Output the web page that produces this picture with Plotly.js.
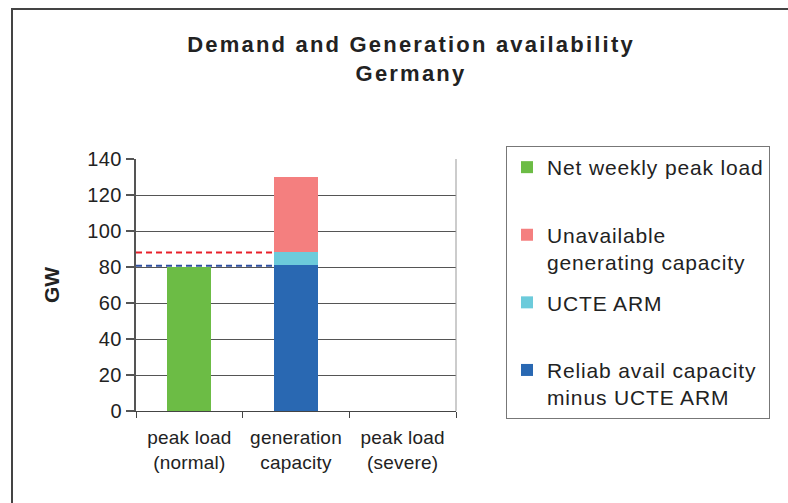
<!DOCTYPE html>
<html>
<head>
<meta charset="utf-8">
<script src="https://cdn.plot.ly/plotly-3.0.1.min.js"></script>
<style>
  html, body { margin: 0; padding: 0; background: #fff; }
  #chart { width: 788px; height: 503px; }
  .gtitle { letter-spacing: 2.2px; }
  .legendtext { letter-spacing: 0.85px; }
  .xtick text { letter-spacing: 0.2px; }
  .ytick text { letter-spacing: 0.5px; }
</style>
</head>
<body>
<div id="chart"></div>
<script>
// ---- data ----
var categories = ["peak load<br>(normal)", "generation<br>capacity", "peak load<br>(severe)"];
var netWeeklyPeakLoad = [80, null, null];
var reliabMinusARM = [null, 81, null];
var ucteARM = [null, 7.5, null];
var unavailableCapacity = [null, 41.5, null];
var seriesNames = [
  "Net weekly peak load<br> ",
  "Unavailable<br>generating capacity",
  "UCTE ARM<br> ",
  "Reliab avail capacity<br>minus UCTE ARM"
];
var redLineValue = 88;
var blueLineValue = 80.7;
var yTicks = [0, 20, 40, 60, 80, 100, 120, 140];

// ---- layout constants ----
var W = 788, H = 503;
var M = {l: 136, r: 332, t: 159, b: 92};
var plotW = W - M.l - M.r, plotH = H - M.t - M.b;
function px2x(px) { return (px - M.l) / plotW; }
function px2y(py) { return (H - M.b - py) / plotH; }

var font = "Liberation Sans, Arial, sans-serif";

var traces = [
  {type: "bar", x: categories, y: reliabMinusARM, name: seriesNames[3], legendgroup: "d", legendrank: 4,
   marker: {color: "#2968b2"}},
  {type: "bar", x: categories, y: ucteARM, name: seriesNames[2], legendgroup: "c", legendrank: 3,
   marker: {color: "#6ccbdb"}},
  {type: "bar", x: categories, y: unavailableCapacity, name: seriesNames[1], legendgroup: "b", legendrank: 2,
   marker: {color: "#f47f7f"}},
  {type: "bar", x: categories, y: netWeeklyPeakLoad, name: seriesNames[0], legendgroup: "a", legendrank: 1,
   marker: {color: "#6cbc45"}}
];
traces.forEach(function (t) { t.hoverinfo = "skip"; t.marker.line = {width: 0}; });

var bx = px2x(12), by = px2y(9), bxr = px2x(W + 5), byb = px2y(H + 5);

var layout = {
  width: W, height: H,
  margin: M,
  paper_bgcolor: "#ffffff",
  plot_bgcolor: "#ffffff",
  barmode: "stack",
  bargap: 0.59,
  font: {family: font, color: "#222222"},
  showlegend: true,
  title: {
    text: "Demand and Generation availability<br>Germany",
    font: {family: font, size: 22, color: "#222222", weight: "bold"},
    x: 411 / W, xanchor: "center",
    y: 1 - 52 / H, yanchor: "top"
  },
  xaxis: {
    type: "category",
    range: [-0.5, 2.5],
    tickson: "boundaries",
    ticks: "outside", ticklen: 6, tickcolor: "#444", tickwidth: 1,
    showline: true, linecolor: "#444", linewidth: 1,
    showgrid: false, zeroline: false,
    ticklabelstandoff: 9,
    tickfont: {family: font, size: 19, color: "#222"},
    fixedrange: true
  },
  yaxis: {
    range: [0, 140],
    tickvals: yTicks,
    ticks: "outside", ticklen: 8, tickcolor: "#555", tickwidth: 1.5,
    showline: true, linecolor: "#555", linewidth: 2,
    showgrid: true, gridcolor: "#555", gridwidth: 1,
    zeroline: false,
    tickfont: {family: font, size: 20, color: "#222"},
    title: {text: "GW", font: {family: font, size: 21, color: "#222", weight: "bold"}, standoff: 22},
    fixedrange: true
  },
  legend: {
    x: px2x(506), y: px2y(146), xanchor: "left", yanchor: "top",
    bordercolor: "#777", borderwidth: 1, bgcolor: "#fff",
    font: {family: font, size: 21, color: "#222"},
    traceorder: "grouped",
    tracegroupgap: 10,
    valign: "top",
    maxheight: 480,
    itemclick: false, itemdoubleclick: false
  },
  shapes: [
    {type: "line", xref: "x", yref: "y", x0: -0.5, x1: 0.79, y0: redLineValue, y1: redLineValue,
     line: {color: "#e8202a", width: 2, dash: "6px,4px"}},
    {type: "line", xref: "x", yref: "y", x0: -0.5, x1: 0.79, y0: blueLineValue, y1: blueLineValue,
     line: {color: "#2f4f9f", width: 2, dash: "6px,4px"}},
    {type: "line", xref: "x domain", yref: "y", x0: 1, x1: 1, y0: 0, y1: 140,
     line: {color: "#999", width: 1}},
    {type: "path", xref: "paper", yref: "paper",
     path: "M" + bx + "," + byb + " L" + bx + "," + by + " L" + bxr + "," + by,
     line: {color: "#444", width: 2}}
  ]
};

Plotly.newPlot("chart", traces, layout, {displayModeBar: false, staticPlot: true});
</script>
</body>
</html>
